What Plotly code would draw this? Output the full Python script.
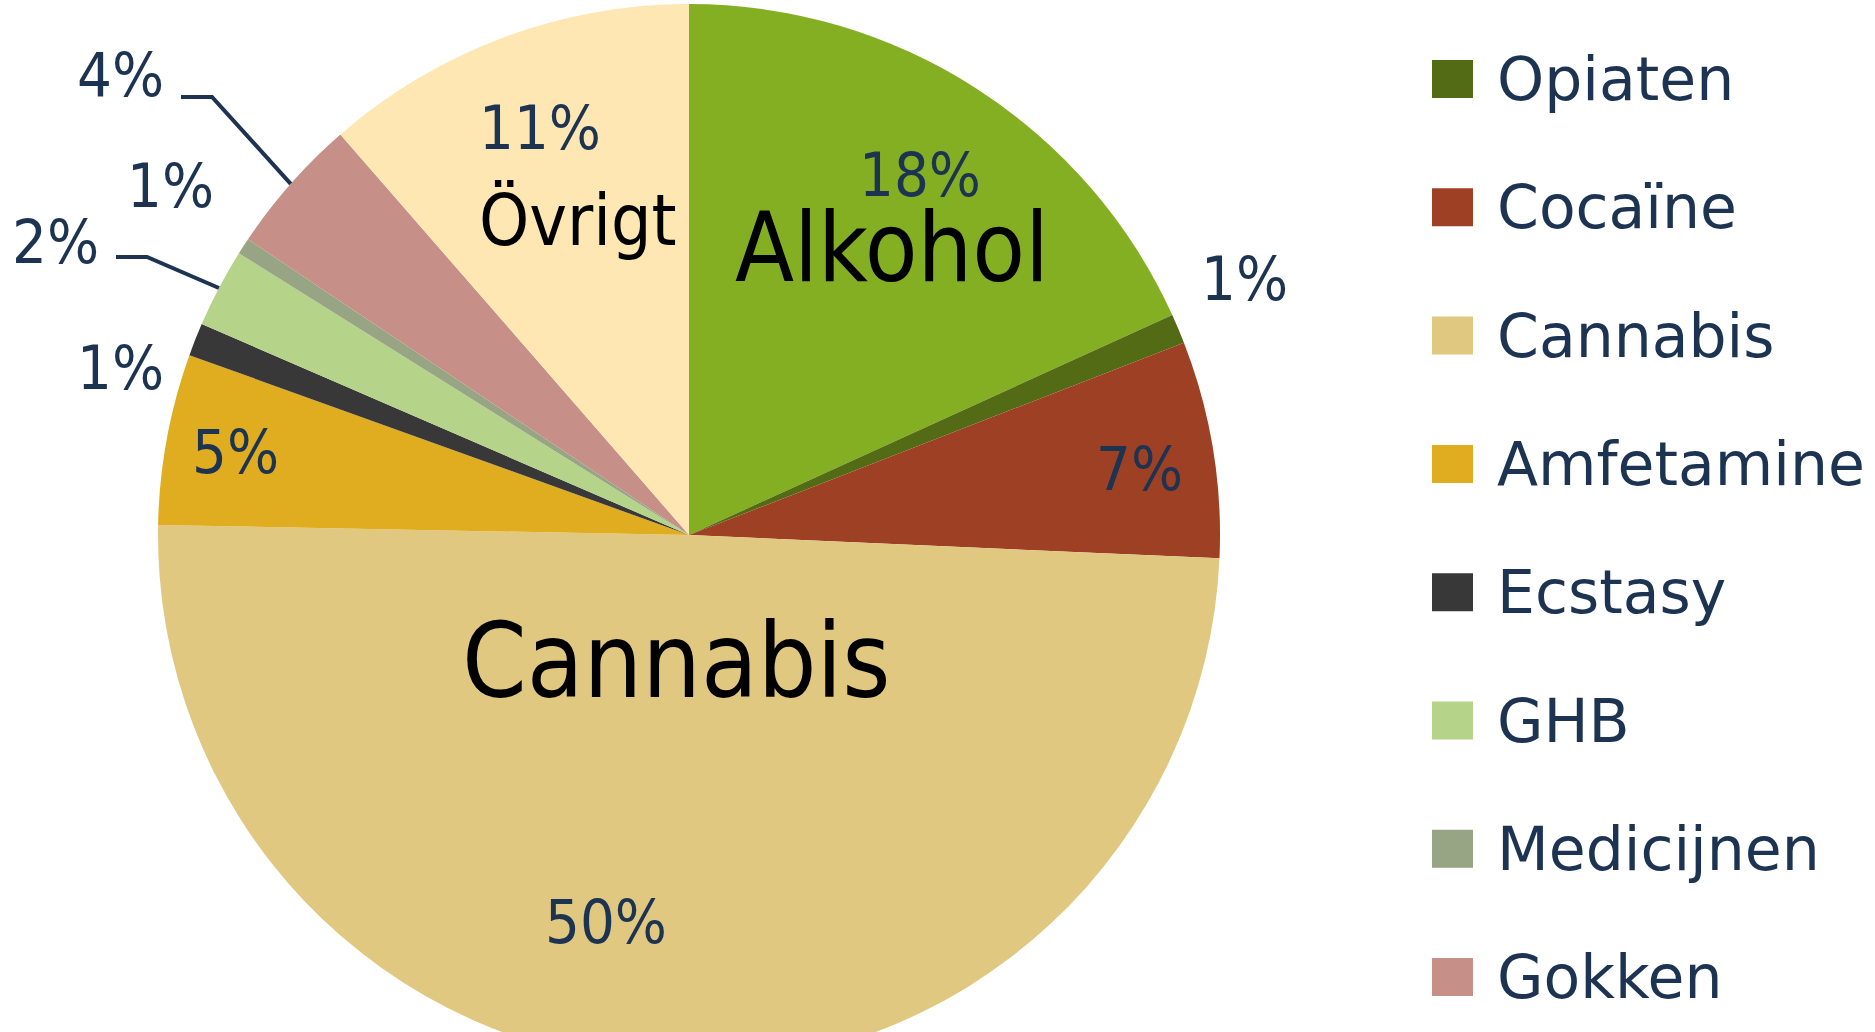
import math
import plotly.graph_objects as go

# ---------------- data ----------------
categories = ["Alkohol", "Opiaten", "Cocaïne", "Cannabis", "Amfetamine",
              "Ecstasy", "GHB", "Medicijnen", "Gokken", "Övrigt"]
shares = [18.2, 0.9, 6.6, 49.6, 5.2, 1.0, 2.4, 0.5, 4.2, 11.4]
pct_labels = ["18%", "1%", "7%", "50%", "5%", "1%", "2%", "1%", "4%", "11%"]
legend_items = ["Opiaten", "Cocaïne", "Cannabis", "Amfetamine",
                "Ecstasy", "GHB", "Medicijnen", "Gokken"]
big_labels = ["Alkohol", "Cannabis", "Övrigt"]

# ---------------- styles / layout ----------------
slice_colors = {
    "Alkohol": "#85AF22", "Opiaten": "#526B14", "Cocaïne": "#9E4024",
    "Cannabis": "#E1C880", "Amfetamine": "#E0AD20", "Ecstasy": "#383838",
    "GHB": "#B5D48A", "Medicijnen": "#97A585", "Gokken": "#C68F88",
    "Övrigt": "#FEE7B2",
}
NAVY = "#1C3352"
PCT_FONT = "DejaVu Sans Condensed, DejaVu Sans, sans-serif"
BIG_FONT = "DejaVu Sans Condensed, DejaVu Sans, sans-serif"
LEG_FONT = "DejaVu Sans, sans-serif"

W, H = 1875, 1070
CX, CY, R = 689, 535, 531

# label centres (pixels) for the percentage texts, one per category
pct_pos = {
    "Alkohol": (920, 175), "Opiaten": (1244, 278), "Cocaïne": (1139, 469),
    "Cannabis": (606, 921), "Amfetamine": (236, 452), "Ecstasy": (120, 367),
    "GHB": (55, 241), "Medicijnen": (170, 186), "Gokken": (120, 75),
    "Övrigt": (540, 128),
}
big_pos = {"Alkohol": (892, 248, 96), "Cannabis": (676, 661, 103), "Övrigt": (578, 220, 71)}
# leader lines: label-side start and elbow (pixels)
leaders = {"Gokken": [(181, 97), (212, 97)], "GHB": [(116, 257), (147, 257)]}

LEG_X_SW, LEG_W_SW, LEG_H_SW = 1432, 41, 38
LEG_X_TXT = 1495
LEG_Y0, LEG_DY = 79, 128.3


def px(x):
    return x / W


def py(y):
    return 1 - y / H


fig = go.Figure(go.Pie(
    labels=categories, values=shares, sort=False, direction="clockwise",
    rotation=0, textinfo="none", hoverinfo="label+percent", showlegend=False,
    marker=dict(colors=[slice_colors[c] for c in categories], line=dict(width=0)),
    domain=dict(x=[px(CX - R), px(CX + R)], y=[py(CY + R), py(CY - R)]),
))

annotations = []
shapes = []

for cat, lab in zip(categories, pct_labels):
    x, y = pct_pos[cat]
    annotations.append(dict(x=px(x), y=py(y), xref="paper", yref="paper",
                            text=lab, showarrow=False, xanchor="center", yanchor="middle",
                            font=dict(family=PCT_FONT, size=61, color=NAVY)))

for name in big_labels:
    x, y, s = big_pos[name]
    annotations.append(dict(x=px(x), y=py(y), xref="paper", yref="paper",
                            text=name, showarrow=False, xanchor="center", yanchor="middle",
                            font=dict(family=BIG_FONT, size=s, color="#000000")))

total = sum(shares)
cum = 0.0
mid_angle = {}
for cat, v in zip(categories, shares):
    mid_angle[cat] = math.radians((cum + v / 2) / total * 360)
    cum += v

for cat, pts in leaders.items():
    th = mid_angle[cat]
    ex, ey = CX + R * math.sin(th), CY - R * math.cos(th)
    all_pts = pts + [(ex, ey)]
    path = "M " + " L ".join(f"{px(a):.5f},{py(b):.5f}" for a, b in all_pts)
    shapes.append(dict(type="path", path=path, xref="paper", yref="paper",
                       line=dict(color=NAVY, width=4)))

for k, name in enumerate(legend_items):
    yc = LEG_Y0 + LEG_DY * k
    shapes.append(dict(type="rect", xref="paper", yref="paper",
                       x0=px(LEG_X_SW), x1=px(LEG_X_SW + LEG_W_SW),
                       y0=py(yc - LEG_H_SW / 2), y1=py(yc + LEG_H_SW / 2),
                       fillcolor=slice_colors[name], line=dict(width=0)))
    annotations.append(dict(x=px(LEG_X_TXT), y=py(yc), xref="paper", yref="paper",
                            text=name, showarrow=False, xanchor="left", yanchor="middle",
                            font=dict(family=LEG_FONT, size=60, color=NAVY)))

fig.update_layout(
    width=W, height=H, margin=dict(l=0, r=0, t=0, b=0, pad=0),
    paper_bgcolor="white", plot_bgcolor="white", showlegend=False,
    annotations=annotations, shapes=shapes,
)

post = ("document.body.style.margin='0';"
        "document.body.style.overflow='hidden';"
        "document.documentElement.style.overflow='hidden';")
fig.write_html("out.html", post_script=post, config={"displayModeBar": False})
